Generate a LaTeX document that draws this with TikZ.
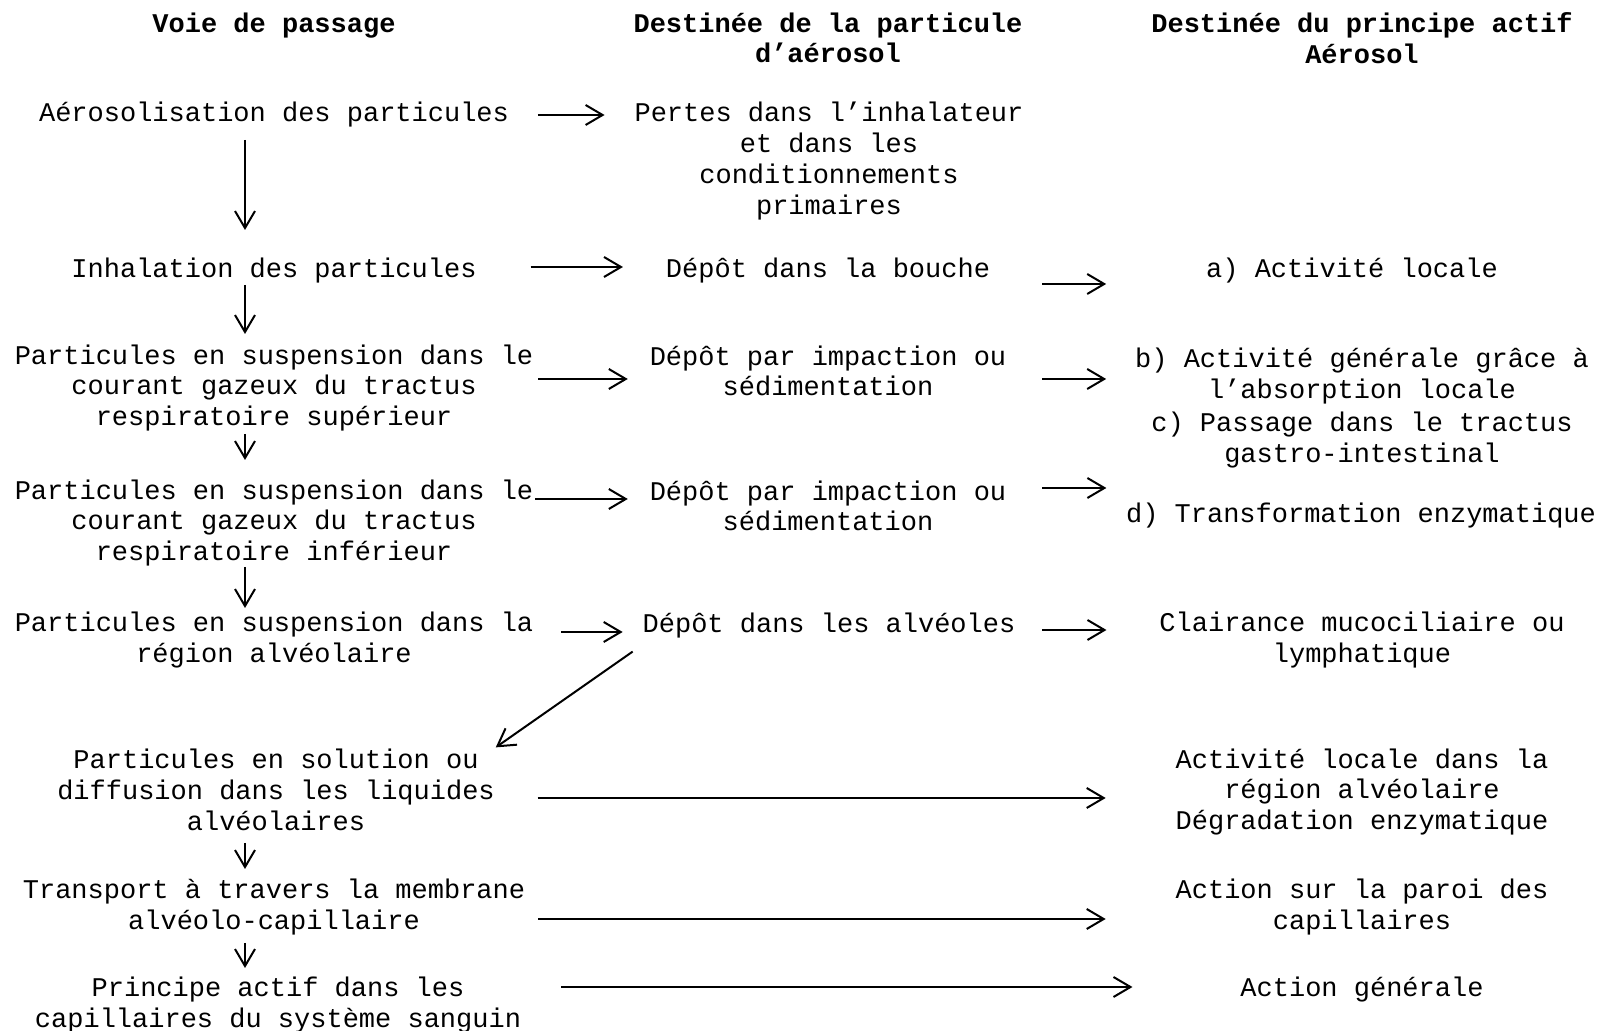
\documentclass[tikz,border=0pt]{standalone}
\usepackage{fontspec}
\setmainfont{Liberation Mono}
\usetikzlibrary{%
  arrows.meta,%
  calc%
}

\begin{document}
\begin{tikzpicture}[
  x=0.5pt, y=-0.5pt,
  font=\fontsize{13.5pt}{15.35pt}\selectfont,
  >={Straight Barb[length=8.5pt,width=10pt]},
  line width=1pt,
  box/.style={align=center, inner sep=0pt},
  head/.style={box, font=\fontsize{13.5pt}{15.35pt}\selectfont\bfseries},
]
\useasboundingbox (0,0) rectangle (1603,1031);

\node[head] (hvoie) at (274,26) {Voie de passage};
\node[head] (hpart) at (828,38) {Destinée de la particule\\d’aérosol};
\node[head] (hprin) at (1362,38) {Destinée du principe actif\\Aérosol};

\node[box] (aero) at (274,115) {Aérosolisation des particules};
\node[box] (inhal) at (274,271) {Inhalation des particules};
\node[box] (sup) at (274,388) {Particules en suspension dans le\\courant gazeux du tractus\\respiratoire supérieur};
\node[box] (inf) at (274,523) {Particules en suspension dans le\\courant gazeux du tractus\\respiratoire inférieur};
\node[box] (reg) at (274,640) {Particules en suspension dans la\\région alvéolaire};
\node[box] (sol) at (276,790) {Particules en solution ou\\diffusion dans les liquides\\alvéolaires};
\node[box] (trans) at (274,907) {Transport à travers la membrane\\alvéolo-capillaire};
\node[box] (princ) at (278,1005) {Principe actif dans les\\capillaires du système sanguin};

\node[box] (pertes) at (829,161) {Pertes dans l’inhalateur\\et dans les\\conditionnements\\primaires};
\node[box] (bouche) at (828,271) {Dépôt dans la bouche};
\node[box] (imp1) at (828,371) {Dépôt par impaction ou\\sédimentation};
\node[box] (imp2) at (828,506) {Dépôt par impaction ou\\sédimentation};
\node[box] (alv) at (829,626) {Dépôt dans les alvéoles};

\node[box] (acta) at (1352,271) {a) Activité locale};
\node[box] (actb) at (1362,376) {b) Activité générale grâce à\\l’absorption locale};
\node[box] (actc) at (1362,440) {c) Passage dans le tractus\\gastro-intestinal};
\node[box] (actd) at (1361,516) {d) Transformation enzymatique};
\node[box] (clair) at (1362,640) {Clairance mucociliaire ou\\lymphatique};
\node[box] (actloc) at (1362,792) {Activité locale dans la\\région alvéolaire\\Dégradation enzymatique};
\node[box] (paroi) at (1362,907) {Action sur la paroi des\\capillaires};
\node[box] (gen) at (1362,990) {Action générale};

\draw [->] ($(aero.center)+(-29,25)$) -- ($(inhal.center)+(-29,-41)$);
\draw [->] ($(inhal.center)+(-29,14)$) -- ($(sup.center)+(-29,-54)$);
\draw [->] ($(sup.center)+(-29,46)$) -- ($(inf.center)+(-29,-63)$);
\draw [->] ($(inf.center)+(-29,44)$) -- ($(reg.center)+(-29,-32)$);
\draw [->] ($(sol.center)+(-31,53)$) -- ($(trans.center)+(-29,-38)$);
\draw [->] ($(trans.center)+(-29,36)$) -- ($(princ.center)+(-33,-37)$);

\draw [->] ($(aero.east)+(28,0)$) -- ($(aero.east -| pertes.west)+(-29,0)$);
\draw [->] ($(inhal.east)+(53,-4)$) -- ($(inhal.east -| bouche.west)+(-42,-4)$);
\draw [->] ($(sup.east)+(4,-9)$) -- ($(sup.east -| imp1.west)+(-21,-9)$);
\draw [->] ($(inf.east)+(1,-24)$) -- ($(inf.east -| imp2.west)+(-21,-24)$);
\draw [->] ($(reg.east)+(27,-8)$) -- ($(reg.east -| alv.west)+(-19,-8)$);
\draw [->] ($(alv.south west)+(-9,12)$) -- ($(sol.north east)+(0,-1)$);
\draw [->] ($(sol.east)+(42,8)$) -- ($(sol.east -| actloc.west)+(-69,8)$);
\draw [->] ($(trans.east)+(12,12)$) -- ($(trans.east -| paroi.west)+(-69,12)$);
\draw [->] ($(princ.east |- gen.west)+(39,-3)$) -- ($(gen.west)+(-107,-3)$);

\draw [->] ($(bouche.east)+(51,13)$) -- ($(bouche.east -| acta.west)+(-99,13)$);
\draw [->] ($(imp1.east)+(35,8)$) -- ($(imp1.east -| actb.west)+(-28,8)$);
\draw [->] ($(imp2.east)+(35,-18)$) -- ($(imp2.east -| actc.west)+(-44,-18)$);
\draw [->] ($(alv.east)+(26,4)$) -- ($(alv.east -| clair.west)+(-52,4)$);

\end{tikzpicture}
\end{document}
